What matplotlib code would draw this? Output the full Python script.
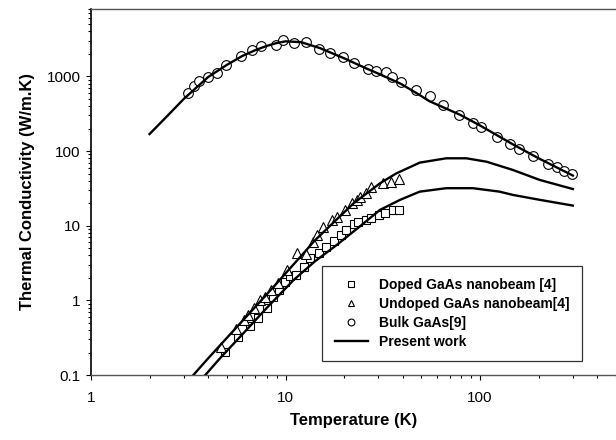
import matplotlib
matplotlib.use('Agg')
import matplotlib.pyplot as plt
from matplotlib.ticker import LogLocator, NullFormatter, FixedLocator, FixedFormatter

plt.rcParams['font.family'] = ['Liberation Sans', 'DejaVu Sans']

# Bulk GaAs [9] (circles)
bulk_T = [3.15, 3.38, 3.57, 3.98, 4.45, 4.95, 5.91, 6.73, 7.48, 8.97, 9.71, 11.1,
          12.7, 14.9, 17.0, 19.8, 22.6, 26.6, 29.3, 33.0, 35.3, 39.2, 47.1, 55.5,
          64.3, 77.8, 91.6, 101, 122, 142, 158, 187, 224, 248, 269, 298]
bulk_k = [597, 748, 855, 997, 1128, 1417, 1906, 2225, 2517, 2596, 3096, 2794,
          2849, 2344, 2053, 1793, 1508, 1265, 1200, 1142, 979, 838, 661, 550,
          412, 306, 241, 211, 156, 125, 108, 86, 67, 61, 54, 49.5]

# Undoped GaAs nanobeam [4] (triangles)
undoped_T = [4.68, 5.56, 6.10, 6.45, 6.85, 7.35, 7.85, 8.44, 9.10, 10.2, 11.4, 12.8,
             13.8, 14.6, 15.6, 17.4, 18.4, 20.2, 21.9, 23.3, 24.2, 25.8, 27.6,
             31.7, 34.9, 38.3]
undoped_k = [0.24, 0.41, 0.55, 0.64, 0.78, 1.01, 1.12, 1.38, 1.73, 2.56, 4.28, 4.19,
             6.06, 7.53, 9.73, 12.0, 13.2, 16.3, 20.0, 22.2, 24.5, 27.8, 33.4,
             37.1, 39.0, 42.0]

# Doped GaAs nanobeam [4] (squares)
doped_T = [4.87, 5.72, 6.58, 7.2, 8.03, 8.66, 9.27, 9.94, 10.6, 11.3, 12.5, 13.4,
           14.8, 16.2, 17.7, 19.3, 20.4, 22.4, 23.5, 25.8, 27.6, 30.4, 32.6,
           35.7, 38.3]
doped_k = [0.205, 0.326, 0.454, 0.58, 0.78, 1.12, 1.38, 1.78, 2.14, 2.2, 2.83, 3.66,
           4.28, 5.15, 6.3, 7.53, 8.79, 10.6, 11.3, 12.0, 12.6, 14.0, 14.6,
           16.0, 16.3]

# Present work (model curves)
model_bulk_T = [2, 2.5, 3, 4, 5, 6, 7, 8, 9, 10, 12, 15, 20, 26, 30, 39, 47, 55,
                79, 100, 150, 200, 300]
model_bulk_k = [169, 306, 500, 980, 1430, 1880, 2250, 2560, 2800, 2950, 2880, 2400,
                1750, 1280, 1090, 800, 600, 465, 306, 220, 120, 80, 47]

model_undoped_T = [3.36, 4, 5, 6, 7, 8.84, 10, 12, 14.1, 18, 22.4, 30.6, 37, 49,
                   67, 85, 108, 147, 203, 300]
model_undoped_k = [0.1, 0.167, 0.315, 0.53, 0.82, 1.6, 2.3, 3.9, 6.3, 11.6, 20, 37,
                   50, 70, 80, 80, 72, 56, 41, 31]

model_doped_T = [3.87, 4.6, 6, 8, 11, 14.1, 18.3, 24, 30.6, 38.8, 49, 67, 92, 126,
                 147, 203, 300]
model_doped_k = [0.1, 0.167, 0.35, 0.79, 1.87, 3.3, 5.5, 9.7, 16.3, 22.2, 28.6, 31.8,
                 31.8, 28.6, 25.9, 22.2, 18.6]

y_ticks = [0.1, 1, 10, 100, 1000]
y_ticklabels = ['0.1', '1', '10', '100', '1000']
x_ticks = [1, 10, 100]
x_ticklabels = ['1', '10', '100']

fig = plt.figure(figsize=(6.16, 4.4), dpi=100)
ax = fig.add_axes([91 / 616, 65 / 440, 525 / 616, 366 / 440])
ax.set_xscale('log')
ax.set_yscale('log')

mk = dict(linestyle='none', markerfacecolor='white', markeredgecolor='black',
          markeredgewidth=0.8)
ax.plot(doped_T, doped_k, marker='s', markersize=5.8, label='Doped GaAs nanobeam [4]', **mk)
ax.plot(undoped_T, undoped_k, marker='^', markersize=7, label='Undoped GaAs nanobeam[4]', **mk)
ax.plot(bulk_T, bulk_k, marker='o', markersize=7, label='Bulk GaAs[9]', **mk)
ax.plot(model_bulk_T, model_bulk_k, color='black', lw=1.7, label='Present work')
ax.plot(model_undoped_T, model_undoped_k, color='black', lw=1.7)
ax.plot(model_doped_T, model_doped_k, color='black', lw=1.7)

ax.set_xlim(1, 500)
ax.set_ylim(0.1, 8000)

ax.xaxis.set_major_locator(FixedLocator(x_ticks))
ax.xaxis.set_major_formatter(FixedFormatter(x_ticklabels))
ax.xaxis.set_minor_locator(LogLocator(base=10, subs=range(2, 10)))
ax.xaxis.set_minor_formatter(NullFormatter())
ax.yaxis.set_major_locator(FixedLocator(y_ticks))
ax.yaxis.set_major_formatter(FixedFormatter(y_ticklabels))
ax.yaxis.set_minor_locator(LogLocator(base=10, subs=range(2, 10)))
ax.yaxis.set_minor_formatter(NullFormatter())

ax.tick_params(which='major', direction='out', length=3.5, width=0.8, labelsize=11)
ax.tick_params(which='minor', direction='out', length=2, width=0.8)
ax.tick_params(axis='x', which='major', pad=8)
ax.tick_params(axis='y', which='major', pad=4)

ax.spines['right'].set_visible(False)
ax.spines['left'].set_color('black')
ax.spines['left'].set_linewidth(1.2)
ax.spines['bottom'].set_color('#555555')
ax.spines['top'].set_color('#555555')
ax.spines['bottom'].set_linewidth(1.0)
ax.spines['top'].set_linewidth(1.0)

ax.set_xlabel('Temperature (K)', fontsize=12, fontweight='bold', labelpad=6)
ax.set_ylabel('Thermal Conductivity (W/m.K)', fontsize=12, fontweight='bold', labelpad=8)

leg = ax.legend(loc='lower left', bbox_to_anchor=(0.44, 0.038), borderaxespad=0,
                prop={'weight': 'bold', 'size': 10}, fancybox=False, framealpha=1,
                edgecolor='#333333', markerscale=0.7, handlelength=2.4,
                labelspacing=0.35, borderpad=0.9)
leg.get_frame().set_linewidth(0.9)

fig.savefig('out.png', dpi=100)
